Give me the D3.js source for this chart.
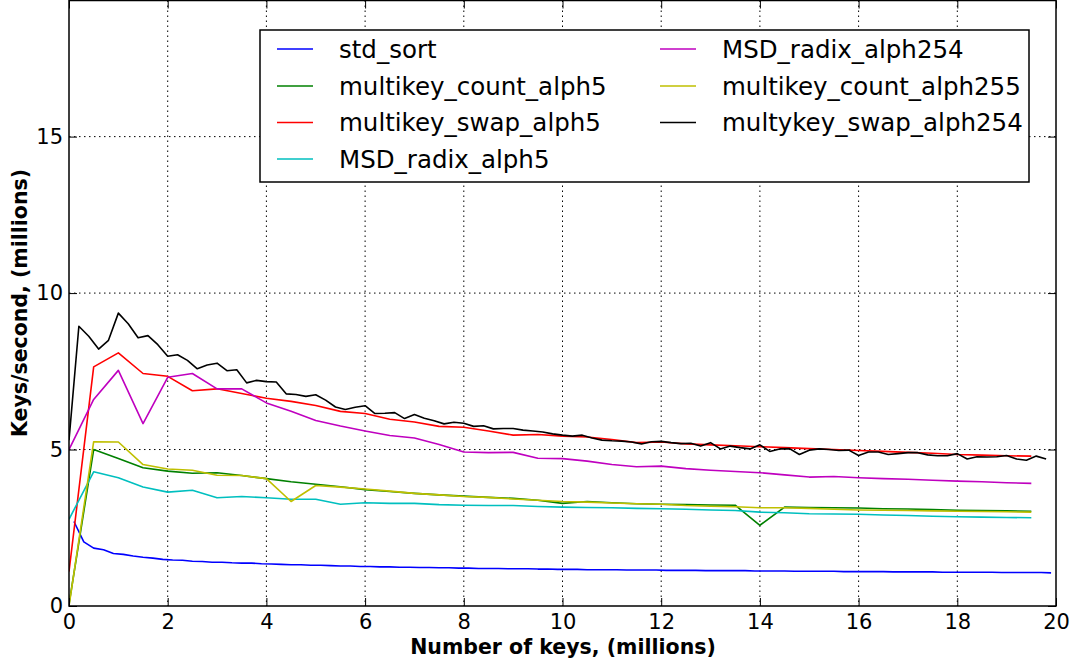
<!DOCTYPE html>
<html>
<head>
<meta charset="utf-8">
<script src="https://cdn.jsdelivr.net/npm/d3@7"></script>
<style>
  html, body { margin: 0; padding: 0; background: #ffffff; }
  svg { display: block; }
  text { font-family: "DejaVu Sans", sans-serif; }
</style>
</head>
<body>
<svg id="chart" width="1074" height="662"></svg>
<script>
// Throughput of string sorting algorithms vs. input size

const xTicks = [0, 2, 4, 6, 8, 10, 12, 14, 16, 18, 20];
const yTicks = [0, 5, 10, 15];

// Fine-grained runs (step 0.2 M keys)
const stdSortX0 = 0.1;
const stdSort = [2.70, 2.05, 1.85, 1.80, 1.68, 1.65, 1.60, 1.56, 1.53, 1.49,
  1.47, 1.46, 1.43, 1.42, 1.40, 1.40, 1.38, 1.37, 1.37, 1.35,
  1.34, 1.33, 1.32, 1.32, 1.30, 1.30, 1.29, 1.28, 1.28, 1.26,
  1.26, 1.25, 1.25, 1.24, 1.24, 1.23, 1.23, 1.22, 1.22, 1.21,
  1.21, 1.20, 1.20, 1.20, 1.19, 1.19, 1.19, 1.18, 1.18, 1.17,
  1.17, 1.17, 1.16, 1.16, 1.16, 1.16, 1.15, 1.15, 1.15, 1.15,
  1.14, 1.14, 1.14, 1.14, 1.13, 1.13, 1.13, 1.13, 1.13, 1.12,
  1.12, 1.12, 1.12, 1.11, 1.11, 1.11, 1.11, 1.11, 1.10, 1.10,
  1.10, 1.10, 1.10, 1.09, 1.09, 1.09, 1.09, 1.09, 1.08, 1.08,
  1.08, 1.08, 1.08, 1.08, 1.07, 1.07, 1.07, 1.07, 1.07, 1.06];

const swap254X0 = 0;
const swap254 = [5.30, 8.94, 8.62, 8.21, 8.49, 9.36, 9.02, 8.57, 8.64, 8.35,
  7.98, 8.03, 7.85, 7.58, 7.70, 7.76, 7.52, 7.55, 7.13, 7.21,
  7.17, 7.16, 6.78, 6.76, 6.70, 6.75, 6.58, 6.36, 6.28, 6.35,
  6.40, 6.15, 6.16, 6.18, 5.99, 6.12, 6.00, 5.92, 5.82, 5.87,
  5.84, 5.74, 5.76, 5.66, 5.67, 5.67, 5.62, 5.59, 5.56, 5.50,
  5.46, 5.43, 5.46, 5.37, 5.30, 5.28, 5.27, 5.24, 5.18, 5.25,
  5.26, 5.22, 5.19, 5.20, 5.11, 5.22, 5.02, 5.11, 5.06, 5.02,
  5.15, 4.94, 5.02, 5.03, 4.84, 4.98, 5.02, 5.00, 4.97, 4.98,
  4.81, 4.92, 4.92, 4.84, 4.87, 4.90, 4.90, 4.83, 4.80, 4.80,
  4.87, 4.70, 4.77, 4.76, 4.77, 4.81, 4.70, 4.66, 4.79, 4.70];

// Coarse runs (step 0.5 M keys, starting at 0)
const countAlph5 = [0.05, 5.00, 4.71, 4.42, 4.31, 4.24, 4.26, 4.17, 4.07, 3.97,
  3.89, 3.81, 3.72, 3.66, 3.60, 3.55, 3.51, 3.47, 3.44, 3.38,
  3.28, 3.34, 3.30, 3.27, 3.25, 3.24, 3.23, 3.22, 2.58, 3.16,
  3.15, 3.14, 3.13, 3.11, 3.10, 3.08, 3.06, 3.05, 3.04, 3.03];

const swapAlph5 = [1.10, 7.64, 8.09, 7.43, 7.34, 6.88, 6.94, 6.79, 6.64, 6.54,
  6.41, 6.22, 6.15, 5.97, 5.88, 5.74, 5.71, 5.59, 5.46, 5.48,
  5.43, 5.40, 5.32, 5.22, 5.24, 5.18, 5.15, 5.12, 5.09, 5.06,
  5.03, 5.00, 4.97, 4.94, 4.91, 4.88, 4.84, 4.82, 4.80, 4.79];

const msdAlph5 = [2.77, 4.29, 4.10, 3.80, 3.64, 3.70, 3.46, 3.50, 3.46, 3.41,
  3.41, 3.25, 3.30, 3.28, 3.28, 3.24, 3.22, 3.21, 3.21, 3.18,
  3.16, 3.15, 3.14, 3.12, 3.11, 3.09, 3.07, 3.05, 3.00, 2.98,
  2.95, 2.94, 2.93, 2.91, 2.89, 2.87, 2.85, 2.84, 2.83, 2.82];

const msdAlph254 = [5.00, 6.60, 7.53, 5.83, 7.31, 7.43, 6.94, 6.94, 6.49, 6.22,
  5.93, 5.75, 5.59, 5.45, 5.37, 5.16, 4.92, 4.90, 4.91, 4.72,
  4.71, 4.63, 4.52, 4.45, 4.47, 4.39, 4.34, 4.30, 4.26, 4.19,
  4.12, 4.14, 4.10, 4.07, 4.05, 4.02, 3.99, 3.97, 3.94, 3.92];

const countAlph255 = [0.00, 5.25, 5.24, 4.52, 4.38, 4.34, 4.18, 4.17, 4.07, 3.34,
  3.85, 3.80, 3.74, 3.67, 3.60, 3.55, 3.50, 3.47, 3.42, 3.38,
  3.34, 3.32, 3.29, 3.27, 3.25, 3.21, 3.19, 3.17, 3.14, 3.14,
  3.12, 3.09, 3.07, 3.06, 3.05, 3.04, 3.03, 3.02, 3.01, 3.00];

const fineStep = 0.2;
const coarseStep = 0.5;

const series = [
  { name: "std_sort",             color: "#0000ff", x0: stdSortX0, step: fineStep,   values: stdSort },
  { name: "multikey_count_alph5", color: "#008000", x0: 0,         step: coarseStep, values: countAlph5 },
  { name: "multikey_swap_alph5",  color: "#ff0000", x0: 0,         step: coarseStep, values: swapAlph5 },
  { name: "MSD_radix_alph5",      color: "#00bfbf", x0: 0,         step: coarseStep, values: msdAlph5 },
  { name: "MSD_radix_alph254",    color: "#bf00bf", x0: 0,         step: coarseStep, values: msdAlph254 },
  { name: "multikey_count_alph255", color: "#bfbf00", x0: 0,       step: coarseStep, values: countAlph255 },
  { name: "multykey_swap_alph254",  color: "#000000", x0: swap254X0, step: fineStep, values: swap254 }
];

const svg = d3.select("#chart");
const plot = { left: 69, right: 1056, top: 0.5, bottom: 606 };

const x = d3.scaleLinear().domain([0, 20]).range([plot.left, plot.right]);
const y = d3.scaleLinear().domain([0, 19.35]).range([plot.bottom, plot.top]);

svg.append("defs").append("clipPath").attr("id", "plotClip")
  .append("rect")
  .attr("x", plot.left).attr("y", plot.top)
  .attr("width", plot.right - plot.left).attr("height", plot.bottom - plot.top);

// dotted grid
const grid = svg.append("g");
grid.selectAll("line.vg").data(xTicks.slice(1, -1)).join("line")
  .attr("x1", d => x(d)).attr("x2", d => x(d))
  .attr("y1", plot.top).attr("y2", plot.bottom)
  .attr("stroke", "#000").attr("stroke-width", 1).attr("stroke-dasharray", "1.5,3.5");
grid.selectAll("line.hg").data(yTicks.slice(1)).join("line")
  .attr("x1", plot.left).attr("x2", plot.right)
  .attr("y1", d => y(d)).attr("y2", d => y(d))
  .attr("stroke", "#000").attr("stroke-width", 1).attr("stroke-dasharray", "1.5,3.5");

// data lines
const line = d3.line()
  .x(d => d.x)
  .y(d => d.y);
const lines = svg.append("g").attr("clip-path", "url(#plotClip)");
series.forEach(s => {
  const pts = s.values.map((v, i) => ({ x: x(s.x0 + i * s.step), y: y(v) }));
  lines.append("path")
    .attr("d", line(pts))
    .attr("fill", "none")
    .attr("stroke", s.color)
    .attr("stroke-width", 1.6)
    .attr("stroke-linejoin", "round");
});

// axes: ticks point inward on all four sides
const tickLen = 8;
const xAxisBottom = d3.axisBottom(x).tickValues(xTicks).tickSize(-tickLen).tickPadding(8);
const gxb = svg.append("g").attr("transform", `translate(0,${plot.bottom})`).call(xAxisBottom);
const xAxisTop = d3.axisTop(x).tickValues(xTicks).tickSize(-tickLen).tickFormat("");
const gxt = svg.append("g").attr("transform", `translate(0,${plot.top})`).call(xAxisTop);
const yAxisLeft = d3.axisLeft(y).tickValues(yTicks).tickSize(-tickLen).tickPadding(6);
const gyl = svg.append("g").attr("transform", `translate(${plot.left},0)`).call(yAxisLeft);
const yAxisRight = d3.axisRight(y).tickValues(yTicks).tickSize(-tickLen).tickFormat("");
const gyr = svg.append("g").attr("transform", `translate(${plot.right},0)`).call(yAxisRight);

[gxb, gxt, gyl, gyr].forEach(g => {
  g.select(".domain").remove();
  g.selectAll(".tick line").attr("stroke", "#000").attr("stroke-width", 1);
  g.selectAll(".tick text").attr("font-family", "DejaVu Sans").attr("font-size", 21).attr("fill", "#000");
});

// frame
svg.append("rect")
  .attr("x", plot.left).attr("y", plot.top)
  .attr("width", plot.right - plot.left).attr("height", plot.bottom - plot.top)
  .attr("fill", "none").attr("stroke", "#000").attr("stroke-width", 1.5);

// axis titles
svg.append("text")
  .attr("x", 563).attr("y", 654)
  .attr("text-anchor", "middle").attr("font-weight", "bold").attr("font-size", 20.5)
  .text("Number of keys, (millions)");
svg.append("text")
  .attr("transform", `translate(27,303) rotate(-90)`)
  .attr("text-anchor", "middle").attr("font-weight", "bold").attr("font-size", 20.5)
  .text("Keys/second, (millions)");

// legend
const legend = svg.append("g");
legend.append("rect")
  .attr("x", 260).attr("y", 30).attr("width", 769).attr("height", 152)
  .attr("fill", "#fff").attr("stroke", "#000").attr("stroke-width", 1.5);
const colX = [277, 660];
const rowY = [49, 86, 122.5, 159];
series.forEach((s, i) => {
  const col = i < 4 ? 0 : 1;
  const row = i < 4 ? i : i - 4;
  const lx = colX[col], ly = rowY[row];
  legend.append("line")
    .attr("x1", lx).attr("x2", lx + 36).attr("y1", ly).attr("y2", ly)
    .attr("stroke", s.color).attr("stroke-width", 1.6);
  legend.append("text")
    .attr("x", lx + 62).attr("y", ly + 8.5)
    .attr("font-size", 24.5)
    .text(s.name);
});
</script>
</body>
</html>
